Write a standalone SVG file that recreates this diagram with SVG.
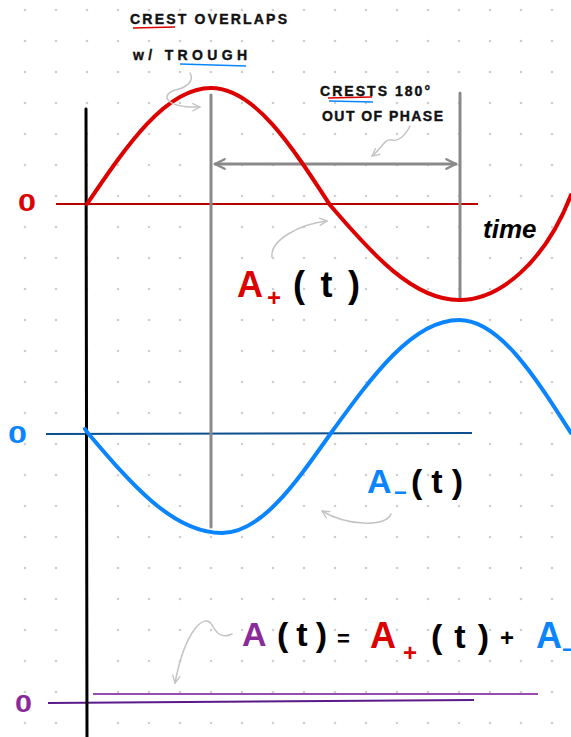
<svg xmlns="http://www.w3.org/2000/svg" width="571" height="737" viewBox="0 0 571 737">
<defs>
<pattern id="dots" x="0" y="0" width="31" height="31" patternUnits="userSpaceOnUse">
<circle cx="25" cy="10" r="1.3" fill="#cfcfcf"/>
</pattern>
<marker id="gh" viewBox="0 0 10 10" refX="9" refY="5" markerWidth="4" markerHeight="4" orient="auto-start-reverse" markerUnits="strokeWidth">
<path d="M1,1 L9,5 L1,9" fill="none" stroke="#8a8a8a" stroke-width="2" stroke-linecap="round" stroke-linejoin="round"/>
</marker>
<marker id="lh" viewBox="0 0 10 10" refX="9" refY="5" markerWidth="6" markerHeight="6" orient="auto" markerUnits="strokeWidth">
<path d="M1,1 L9,5 L1,9" fill="none" stroke="#c4c4c4" stroke-width="1.5" stroke-linecap="round" stroke-linejoin="round"/>
</marker>
</defs>
<style>
.hand{font-family:"Liberation Sans",Arial,sans-serif;font-weight:bold}
.zero{font-family:"Liberation Sans",Arial,sans-serif;font-weight:bold;font-size:24px}
.cap{font-family:"Liberation Sans",Arial,sans-serif;font-weight:bold;font-size:14px;fill:#111;stroke:#111;stroke-width:0.4}
.wave{fill:none;stroke-width:4;stroke-linecap:round}
.guide{fill:none;stroke:#8a8a8a;stroke-width:3;stroke-linecap:round}
.note{fill:none;stroke:#c4c4c4;stroke-width:1.5;stroke-linecap:round}
</style>
<rect width="571" height="737" fill="#ffffff"/>
<rect width="571" height="737" fill="url(#dots)"/>

<g id="baselines">
<line x1="56" y1="204" x2="478" y2="204" stroke="#bb0000" stroke-width="2"/>
<line x1="46" y1="434" x2="472" y2="433" stroke="#0b4f8f" stroke-width="2"/>
<line x1="93" y1="694" x2="538" y2="694" stroke="#9a4cad" stroke-width="2"/>
<line x1="48" y1="703" x2="474" y2="700" stroke="#5a1a8a" stroke-width="2"/>
</g>

<g id="axis">
<path d="M86,109 C86,300 87,500 87,737" fill="none" stroke="#000" stroke-width="3" stroke-linecap="round"/>
</g>

<g id="guides">
<line class="guide" x1="211" y1="95" x2="211" y2="527"/>
<line class="guide" x1="460" y1="93" x2="460" y2="300"/>
<line class="guide" x1="215" y1="164" x2="456" y2="164" marker-start="url(#gh)" marker-end="url(#gh)"/>
</g>

<g id="wave-plus">
<path class="wave" stroke="#dd0000" d="M87,204 C127,145 166,88 211,88 C254,88 291,145 330,205 C372,254 413,300 459,300 C500,300 545,262 571,195"/>
</g>

<g id="wave-minus">
<path class="wave" stroke="#0a84ff" d="M85,429 L87,432 C131,484 173,533 222,533 C261,533 295,484 331,433 C373,375 413,320 459,320 C499,320 534,375 571,433"/>
</g>

<g id="zero-labels">
<text class="zero" x="18" y="211" fill="#dd0000" textLength="18" lengthAdjust="spacingAndGlyphs">0</text>
<text class="zero" x="8" y="443" fill="#0a84ff" textLength="19" lengthAdjust="spacingAndGlyphs">0</text>
<text class="zero" x="15" y="712" fill="#8b2a9b" textLength="17" lengthAdjust="spacingAndGlyphs">0</text>
</g>

<g id="notes">
<text class="cap" x="130" y="24" textLength="157" lengthAdjust="spacing">CREST OVERLAPS</text>
<line x1="133" y1="28" x2="175" y2="27" stroke="#dd0000" stroke-width="1.5"/>
<text class="cap" x="133" y="60" textLength="114" lengthAdjust="spacing">w/ TROUGH</text>
<line x1="180" y1="64" x2="246" y2="66" stroke="#0a84ff" stroke-width="1.5"/>
<text class="cap" x="320" y="96" textLength="110" lengthAdjust="spacing">CRESTS 180°</text>
<line x1="328" y1="98" x2="372" y2="97" stroke="#dd0000" stroke-width="1.5"/>
<line x1="329" y1="101" x2="373" y2="102" stroke="#0a84ff" stroke-width="1.5"/>
<text class="cap" x="322" y="121" textLength="121" lengthAdjust="spacing">OUT OF PHASE</text>
<text class="hand" x="483" y="238" font-size="26" font-style="italic" fill="#000">time</text>
</g>

<g id="connectors">
<path class="note" d="M190,73 C195,82 185,88 175,90 C160,95 165,108 200,107" marker-end="url(#lh)"/>
<path class="note" d="M410,126 C405,136 398,142 392,140 C385,138 382,148 372,156" marker-end="url(#lh)"/>
<path class="note" d="M272,257 C270,240 300,224 327,221" marker-end="url(#lh)"/>
<path class="note" d="M391,514 C385,528 345,525 322,511" marker-end="url(#lh)"/>
<path class="note" d="M232,634 C220,640 215,630 212,625 C205,612 185,630 175,683" marker-end="url(#lh)"/>
</g>

<g id="label-plus">
<text class="hand" x="237" y="297" font-size="36" fill="#dd0000">A</text>
<text class="hand" x="267" y="306" font-size="24" fill="#dd0000">+</text>
<text class="hand" x="293" y="297" font-size="36" fill="#000" textLength="67" lengthAdjust="spacing">(t)</text>
</g>

<g id="label-minus">
<text class="hand" x="367" y="493" font-size="34" fill="#0a84ff">A</text>
<text class="hand" x="394" y="500" font-size="22" fill="#0a84ff">−</text>
<text class="hand" x="411" y="493" font-size="34" fill="#000" textLength="52" lengthAdjust="spacing">(t)</text>
</g>

<g id="label-sum">
<text class="hand" x="242" y="646" font-size="34" fill="#8b2a9b">A</text>
<text class="hand" x="277" y="646" font-size="34" fill="#000" textLength="50" lengthAdjust="spacing">(t)</text>
<text class="hand" x="337" y="646" font-size="22" fill="#000">=</text>
<text class="hand" x="370" y="648" font-size="36" fill="#dd0000">A</text>
<text class="hand" x="403" y="661" font-size="24" fill="#dd0000">+</text>
<text class="hand" x="431" y="648" font-size="34" fill="#000" textLength="58" lengthAdjust="spacing">(t)</text>
<text class="hand" x="500" y="646" font-size="24" fill="#000">+</text>
<text class="hand" x="536" y="648" font-size="36" fill="#0a84ff">A</text>
<text class="hand" x="562" y="657" font-size="22" fill="#0a84ff">−</text>
</g>
</svg>
